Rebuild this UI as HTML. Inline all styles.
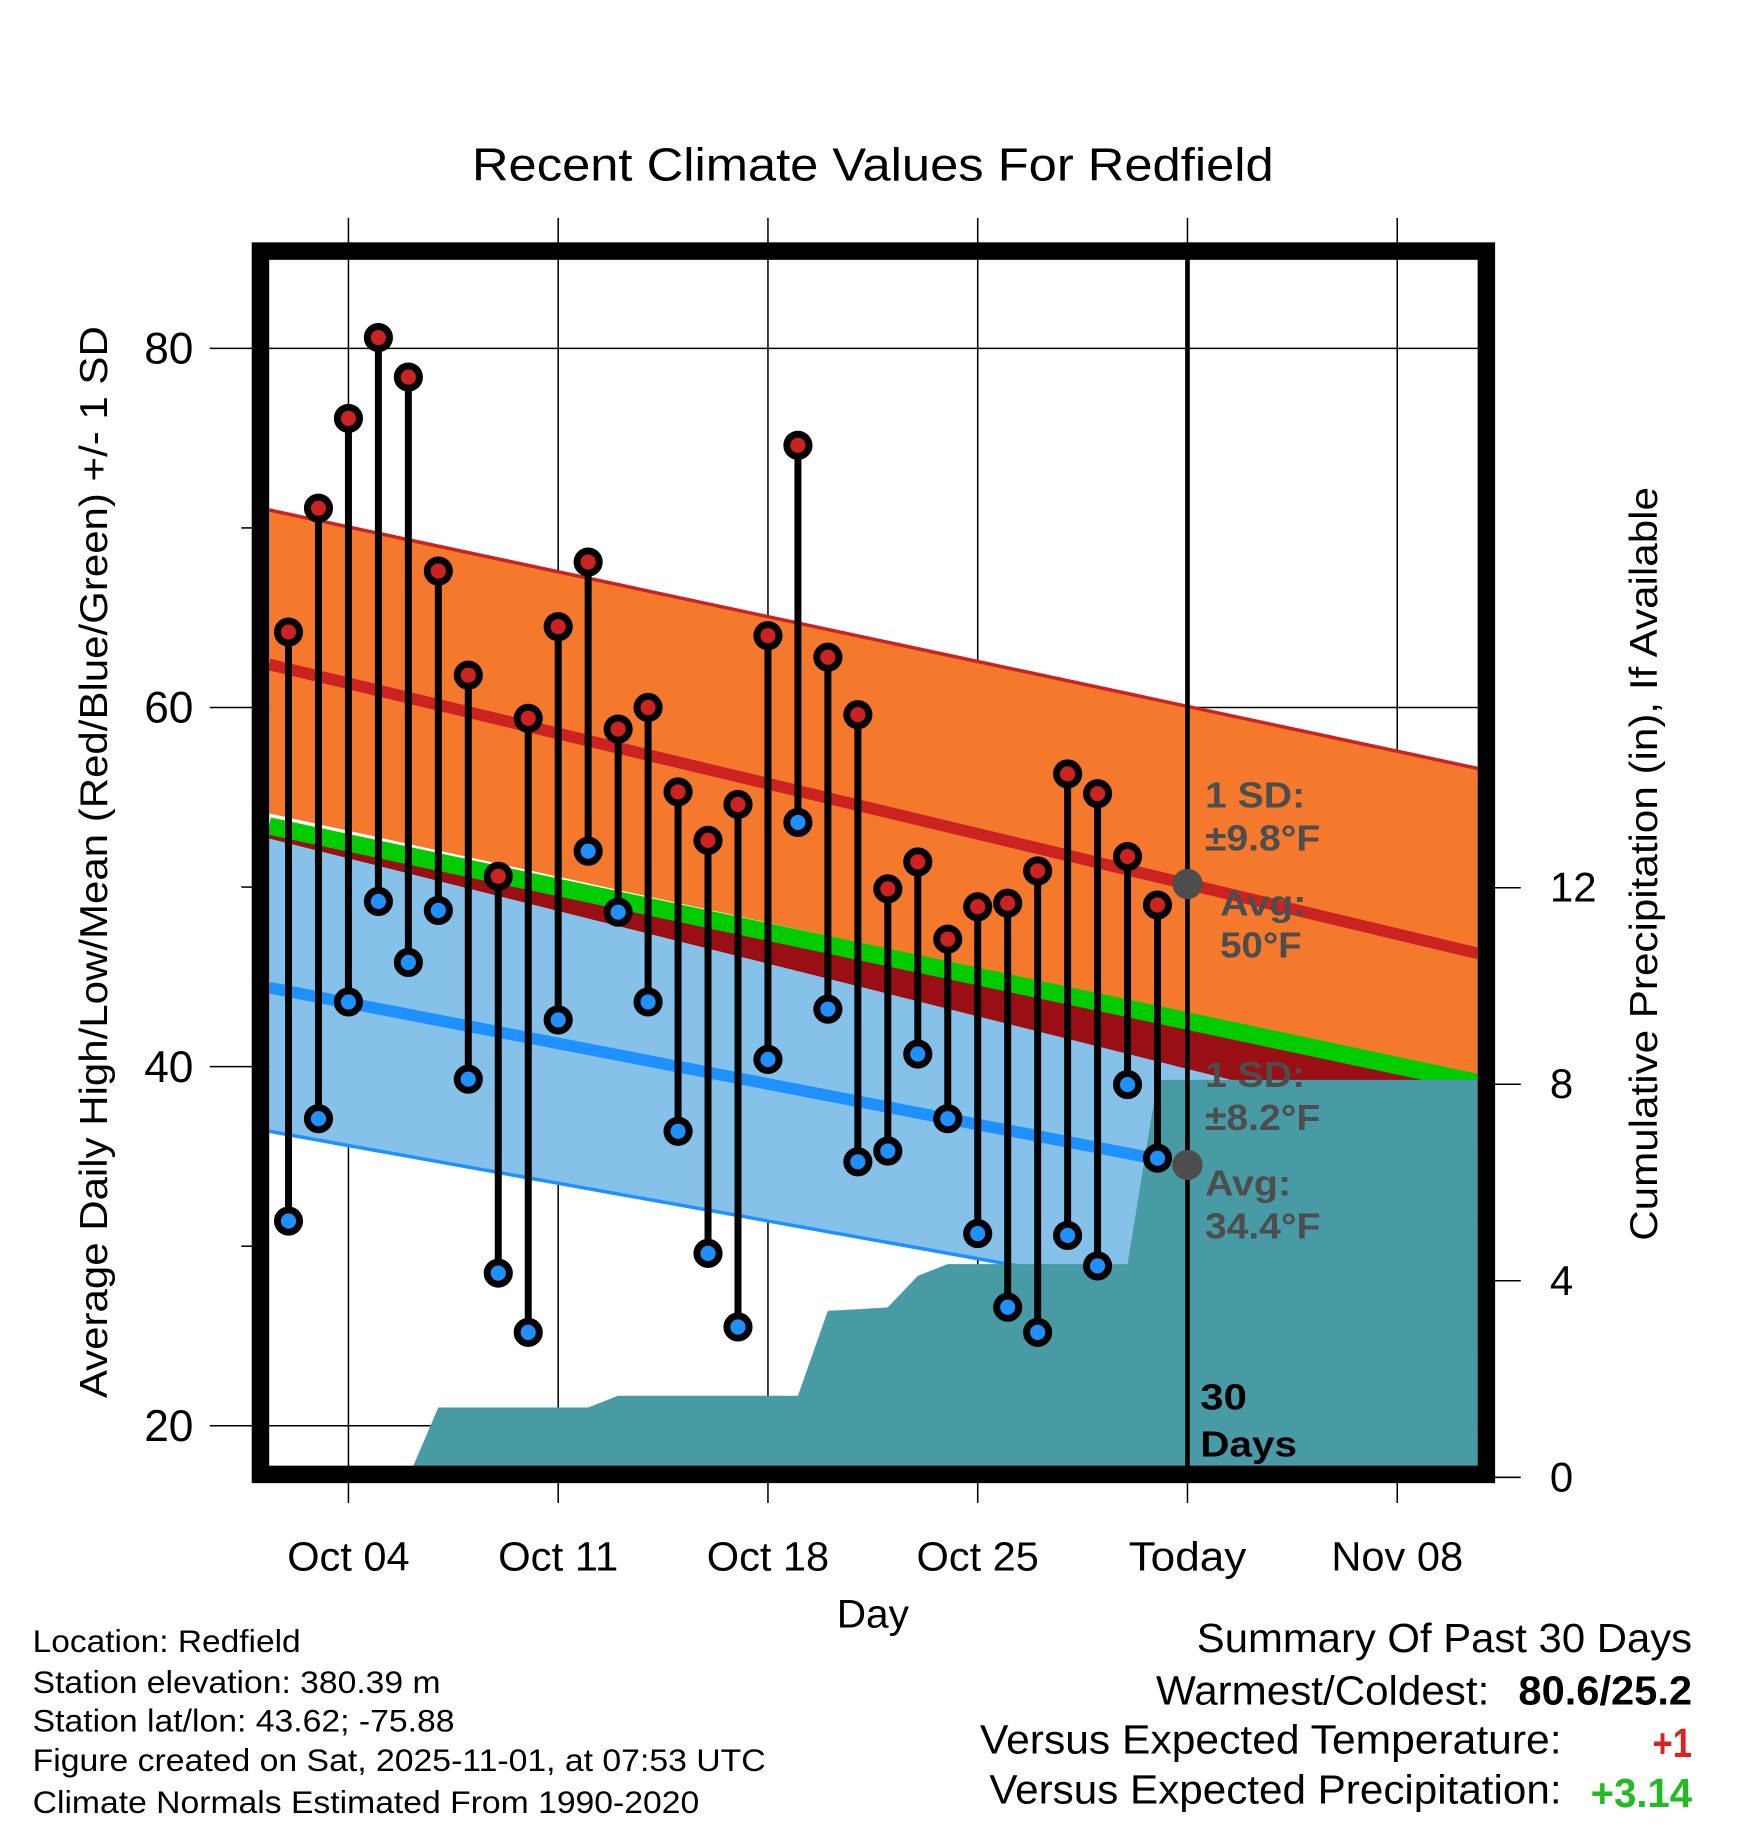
<!DOCTYPE html>
<html><head><meta charset="utf-8"><style>
html,body{margin:0;padding:0;background:#fff}
svg{display:block}
text{font-family:"Liberation Sans",sans-serif}
</style></head><body>
<svg id="chart" width="1748" height="1828" viewBox="0 0 1500 1569" preserveAspectRatio="none" xmlns="http://www.w3.org/2000/svg">
<defs><clipPath id="plotclip"><rect x="231" y="222" width="1037" height="1038"/></clipPath></defs>
<text x="405" y="155" font-size="40" textLength="688" lengthAdjust="spacingAndGlyphs">Recent Climate Values For Redfield</text>
<g id="grid"></g>
<g id="plot" clip-path="url(#plotclip)"></g>
<rect x="223.5" y="215.5" width="1052" height="1050" fill="none" stroke="#000" stroke-width="15"/>
<g id="axes"></g>
<text x="718" y="1397" font-size="34" textLength="62" lengthAdjust="spacingAndGlyphs">Day</text>
<text transform="translate(92,1200) rotate(-90)" font-size="33" textLength="920" lengthAdjust="spacingAndGlyphs">Average Daily High/Low/Mean (Red/Blue/Green) +/- 1 SD</text>
<text transform="translate(1422,1065) rotate(-90)" font-size="33" textLength="647" lengthAdjust="spacingAndGlyphs">Cumulative Precipitation (in), If Available</text>
<g font-size="27" lengthAdjust="spacingAndGlyphs">
<text x="28" y="1418" textLength="230" lengthAdjust="spacingAndGlyphs">Location: Redfield</text>
<text x="28" y="1453" textLength="350" lengthAdjust="spacingAndGlyphs">Station elevation: 380.39 m</text>
<text x="28" y="1486" textLength="362" lengthAdjust="spacingAndGlyphs">Station lat/lon: 43.62; -75.88</text>
<text x="28" y="1520" textLength="629" lengthAdjust="spacingAndGlyphs">Figure created on Sat, 2025-11-01, at 07:53 UTC</text>
<text x="28" y="1556" textLength="572" lengthAdjust="spacingAndGlyphs">Climate Normals Estimated From 1990-2020</text>
</g>
<g font-size="35">
<text x="1027" y="1418" textLength="425" lengthAdjust="spacingAndGlyphs">Summary Of Past 30 Days</text>
<text x="992" y="1463" textLength="286" lengthAdjust="spacingAndGlyphs">Warmest/Coldest:</text>
<text x="1303" y="1463" font-weight="bold" textLength="149" lengthAdjust="spacingAndGlyphs">80.6/25.2</text>
<text x="841" y="1505" textLength="499" lengthAdjust="spacingAndGlyphs">Versus Expected Temperature:</text>
<text x="1418" y="1508" font-weight="bold" fill="#dd2222" textLength="34" lengthAdjust="spacingAndGlyphs">+1</text>
<text x="849" y="1548" textLength="491" lengthAdjust="spacingAndGlyphs">Versus Expected Precipitation:</text>
<text x="1365" y="1551" font-weight="bold" fill="#22bb22" textLength="87" lengthAdjust="spacingAndGlyphs">+3.14</text>
</g>
</svg>
<script>
const days = [2,3,4,5,6,7,8,9,10,11,12,13,14,15,16,17,18,19,20,21,22,23,24,25,26,27,28,29,30,31];
const highs = [64.2,71.1,76.1,80.6,78.4,67.6,61.8,50.6,59.4,64.5,68.1,58.8,60.0,55.3,52.6,54.6,64.0,74.6,62.8,59.6,49.9,51.4,47.1,48.9,49.1,50.9,56.3,55.2,51.7,49.0];
const lows = [31.4,37.1,43.6,49.2,45.8,48.7,39.3,28.5,25.2,42.6,52.0,48.6,43.6,36.4,29.6,25.5,40.4,53.6,43.2,34.7,35.3,40.7,37.1,30.7,26.6,25.2,30.6,28.9,39.0,34.9];
const precip = [0,0,0,0,0,1.42,1.42,1.42,1.42,1.42,1.42,1.66,1.66,1.66,1.66,1.66,1.66,1.66,3.39,3.42,3.46,4.1,4.34,4.34,4.34,4.34,4.34,4.34,4.34,8.09];
const normalDays = [1.35,41.7];
const highUpper = [71.0,56.6];
const highMean = [62.4,46.3];
const highLower = [54.1,39.35];
const overallMean = [53.4,39.1];
const lowUpper = [52.7,35.8];
const lowMean = [44.4,31.4];
const lowLower = [36.4,24.3];
const yTicks = [20,40,60,80];
const yMinor = [30,50,70];
const y2Ticks = [0,4,8,12];
const xTickDays = [4,11,18,25,32,39];
const xTickLabels = ["Oct 04","Oct 11","Oct 18","Oct 25","Today","Nov 08"];
const xTickWidths = [105,103,105,105,101,113];
const todayDay = 32;

const NS="http://www.w3.org/2000/svg";
const X = d => 299 + (d-4)*180/7;
const Y = v => 299 + (80-v)*308.25/20;
const Y2 = p => 1268 - p*42.17;
function mk(parent, tag, attrs){const e=document.createElementNS(NS,tag);for(const k in attrs)e.setAttribute(k,attrs[k]);parent.appendChild(e);return e;}
const grid=document.getElementById('grid'), plot=document.getElementById('plot'), axes=document.getElementById('axes');
function band(top,bot,fill,name){
  const pts=[[X(normalDays[0]),Y(top[0])],[X(normalDays[1]),Y(top[1])],[X(normalDays[1]),Y(bot[1])],[X(normalDays[0]),Y(bot[0])]];
  const p=mk(plot,'polygon',{points:pts.map(a=>a.join(',')).join(' '),fill:fill});
  
  
}
function nline(vals,color,w,name){
  const l=mk(plot,'line',{x1:X(normalDays[0]),y1:Y(vals[0]),x2:X(normalDays[1]),y2:Y(vals[1]),stroke:color,'stroke-width':w});
  
  
}
band(highUpper,highLower,'#f5792c','high-sd-band');
nline(highUpper,'#cc2222',3,'high-upper-line');
band(overallMean,lowUpper,'#990f14','high-lower-band');
band(lowUpper,lowLower,'#85c1e8','low-sd-band');
nline(lowLower,'#1e90ff',3,'low-lower-line');
nline(lowMean,'#1e90ff',10,'low-mean-line');
nline(overallMean,'#00cc00',15,'mean-line');
nline(highMean,'#cc2222',10,'high-mean-line');
let pp=[[X(days[0]),Y2(0)]];
days.forEach((d,i)=>pp.push([X(d),Y2(precip[i])]));
pp.push([X(normalDays[1]),Y2(precip[precip.length-1])]);
pp.push([X(normalDays[1]),Y2(-1)]);
pp.push([X(days[0]),Y2(-1)]);
const pa=mk(plot,'polygon',{points:pp.map(a=>a.join(',')).join(' '),fill:'#489ba5'});


xTickDays.forEach((d,i)=>{
  const g=mk(grid,'line',{x1:X(d),y1:187,x2:X(d),y2:1290,stroke:'#000','stroke-width':1.3});
  
  
  const t=mk(axes,'text',{x:X(d)-xTickWidths[i]/2,y:1348,'font-size':35,textLength:xTickWidths[i],lengthAdjust:'spacingAndGlyphs'});
  t.textContent=xTickLabels[i];
  
  
});
yTicks.forEach(v=>{
  const g=mk(grid,'line',{x1:180,y1:Y(v),x2:1268,y2:Y(v),stroke:'#000','stroke-width':1.3});
  
  
  const t=mk(axes,'text',{x:166,y:Y(v)+13,'font-size':38,'text-anchor':'end'});
  t.textContent=v;
  
  
});
yMinor.forEach(v=>{
  const g=mk(axes,'line',{x1:207,y1:Y(v),x2:218,y2:Y(v),stroke:'#000','stroke-width':1.3});
  
  
});
y2Ticks.forEach(p=>{
  const g=mk(axes,'line',{x1:1280,y1:Y2(p),x2:1305,y2:Y2(p),stroke:'#000','stroke-width':1.3});
  
  
  const t=mk(axes,'text',{x:1330,y:Y2(p)+12,'font-size':36});
  t.textContent=p;
  
  
});
const tl=mk(plot,'line',{x1:X(todayDay),y1:222,x2:X(todayDay),y2:1260,stroke:'#000','stroke-width':4});


days.forEach((d,i)=>{
  const s=mk(plot,'line',{x1:X(d),y1:Y(highs[i]),x2:X(d),y2:Y(lows[i]),stroke:'#000','stroke-width':6});
  
  
  const h=mk(plot,'circle',{cx:X(d),cy:Y(highs[i]),r:9.5,fill:'#cc2222',stroke:'#000','stroke-width':6});
  
  
  const l=mk(plot,'circle',{cx:X(d),cy:Y(lows[i]),r:9.5,fill:'#1e90ff',stroke:'#000','stroke-width':6});
  
  
});
const hmToday = highMean[0]+(highMean[1]-highMean[0])*(todayDay-normalDays[0])/(normalDays[1]-normalDays[0]);
const lmToday = lowMean[0]+(lowMean[1]-lowMean[0])*(todayDay-normalDays[0])/(normalDays[1]-normalDays[0]);
[hmToday,lmToday].forEach(v=>{
  const c=mk(plot,'circle',{cx:X(todayDay),cy:Y(v),r:13,fill:'#4d4d4d'});
  
  
});
const labs=[["1 SD:",1034,693,86],["±9.8°F",1034,730,99],["Avg:",1047,786,74],["50°F",1047,822,70],["1 SD:",1034,933,86],["±8.2°F",1034,970,99],["Avg:",1034,1026,74],["34.4°F",1034,1063,99]];
labs.forEach(a=>{
  const t=mk(plot,'text',{x:a[1],y:a[2],'font-size':31,'font-weight':'bold',fill:'#4d4d4d',textLength:a[3],lengthAdjust:'spacingAndGlyphs'});
  t.textContent=a[0];
  
  
});
[["30",1030,1210,40],["Days",1030,1250,83]].forEach(a=>{
  const t=mk(plot,'text',{x:a[1],y:a[2],'font-size':31,'font-weight':'bold',fill:'#000',textLength:a[3],lengthAdjust:'spacingAndGlyphs'});
  t.textContent=a[0];
  
  
});
</script>
</body></html>
